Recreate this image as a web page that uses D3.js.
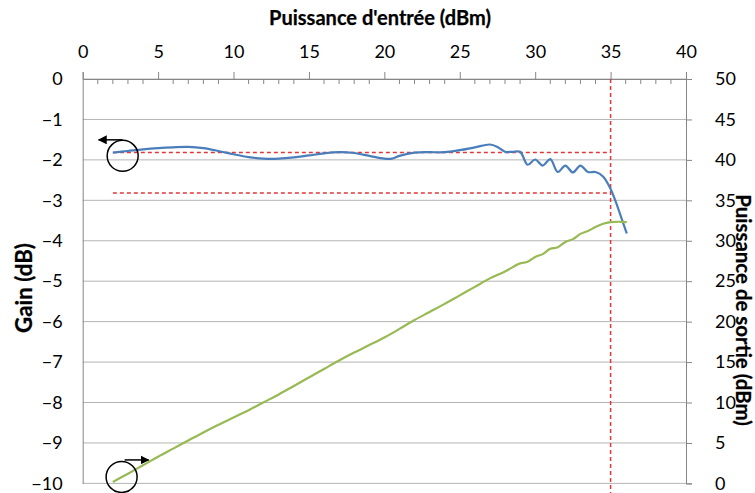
<!DOCTYPE html>
<html><head><meta charset="utf-8">
<script src="https://cdn.jsdelivr.net/npm/d3@7"></script>
<style>body{margin:0;background:#fff}svg{display:block}text{font-family:Lato,"Open Sans",sans-serif}</style>
</head><body><svg id="c" width="755" height="493"></svg>
<script>
// Input power (dBm) and gain (dB)
const pinGain = [2,3,4,5,6,7,8,9,10,11,12,13,14,15,16,17,18,19,20,20.5,21,22,23,24,25,26,27,27.5,28,28.5,29,29.5,30,30.5,31,31.5,32,32.5,33,33.5,34,34.5,35,35.5,36.07];
const gain = [-1.82,-1.78,-1.74,-1.71,-1.69,-1.68,-1.71,-1.78,-1.86,-1.93,-1.97,-1.97,-1.94,-1.89,-1.84,-1.81,-1.83,-1.9,-1.97,-1.97,-1.9,-1.82,-1.81,-1.81,-1.76,-1.69,-1.62,-1.68,-1.8,-1.8,-1.8,-2.12,-1.99,-2.14,-1.98,-2.3,-2.14,-2.31,-2.14,-2.3,-2.3,-2.41,-2.72,-3.2,-3.82];
// Input power (dBm) and output power (dBm)
const pinOut = [2,3,4,5,6,7,8,9,10,11,12,13,14,15,16,17,18,19,20,21,22,23,24,25,26,27,28,29,29.5,30,30.5,31,31.5,32,32.5,33,33.5,34,34.5,35,35.5,36.07];
const pout = [0.18,1.2,2.25,3.3,4.3,5.3,6.3,7.25,8.15,9.05,10.03,11.0,12.05,13.1,14.15,15.2,16.18,17.1,18.03,19.1,20.2,21.2,22.2,23.25,24.3,25.35,26.2,27.2,27.4,28.0,28.35,29.0,29.2,29.85,30.2,30.85,31.2,31.7,32.1,32.3,32.35,32.3];
// Reference lines
const refGain = [-1.82, -2.82];
const refPinStart = 2, refPin = 35;
const xTicks = [0,5,10,15,20,25,30,35,40];
const gainTicks = [0,-1,-2,-3,-4,-5,-6,-7,-8,-9,-10];
const poutTicks = [0,5,10,15,20,25,30,35,40,45,50];

const svg = d3.select("#c");
const L=82.7, R=686, T=79, B=483.4;
const x = d3.scaleLinear().domain([0,40]).range([L,R]);
const yG = d3.scaleLinear().domain([-10,0]).range([B,T]);
const yP = d3.scaleLinear().domain([0,50]).range([B,T]);
const axisCol="#868686", gridCol="#b4b4b4", fs=18;

function fit(sel, target){
  const len = sel.node().getComputedTextLength();
  const f = parseFloat(sel.attr("font-size"));
  sel.attr("font-size", f*target/len);
}

// gridlines
svg.append("g").selectAll("line").data(gainTicks).join("line")
  .attr("x1",L).attr("x2",R).attr("y1",d=>yG(d)).attr("y2",d=>yG(d))
  .attr("stroke",gridCol).attr("stroke-width",1);

// top axis
const gTop = svg.append("g").attr("transform",`translate(0,${T})`)
  .call(d3.axisTop(x).tickValues(xTicks).tickSize(7).tickPadding(14).tickFormat(d3.format("d")));
gTop.select(".domain").attr("stroke",axisCol);
gTop.selectAll(".tick line").attr("stroke",axisCol);
gTop.selectAll("text").attr("font-size",fs).attr("fill","#000").attr("font-family","Lato");
svg.append("g").selectAll("line").data(d3.range(0,41).filter(d=>d%5!==0)).join("line")
  .attr("x1",d=>x(d)).attr("x2",d=>x(d)).attr("y1",T).attr("y2",T+5).attr("stroke",axisCol);

// left axis
const gL = svg.append("g").attr("transform",`translate(${L},0)`)
  .call(d3.axisLeft(yG).tickValues(gainTicks).tickSize(0).tickPadding(20));
gL.select(".domain").attr("stroke",axisCol);
gL.selectAll("text").attr("font-size",fs).attr("fill","#000").attr("font-family","Lato");

// right axis
const gR = svg.append("g").attr("transform",`translate(${R},0)`)
  .call(d3.axisRight(yP).tickValues(poutTicks).tickSize(6).tickPadding(23));
gR.select(".domain").attr("stroke",axisCol);
gR.selectAll(".tick line").attr("stroke",axisCol);
gR.selectAll("text").attr("font-size",fs).attr("fill","#000").attr("font-family","Lato");

// titles
const titleStyle = s => s.attr("font-size",fs).attr("font-weight",700).attr("font-family","Lato")
  .attr("fill","#000").attr("stroke","#000").attr("stroke-width",0.25).attr("text-anchor","middle");
const t1 = svg.append("text").attr("x",380).attr("y",25).call(titleStyle).text("Puissance d'entrée (dBm)");
fit(t1, 222);
const t2 = svg.append("text").attr("transform",`translate(32,288) rotate(-90)`).call(titleStyle).text("Gain (dB)");
fit(t2, 90);
const t3 = svg.append("text").attr("transform",`translate(736,310) rotate(90)`).call(titleStyle).text("Puissance de sortie (dBm)");
fit(t3, 232);

// reference red dashed lines
const red="#e0393b";
svg.append("g").selectAll("line").data(refGain).join("line")
  .attr("x1",x(refPinStart)).attr("x2",x(refPin)).attr("y1",d=>yG(d)).attr("y2",d=>yG(d))
  .attr("stroke",red).attr("stroke-width",1.5).attr("stroke-dasharray","4,3");
svg.append("line").attr("x1",x(refPin)).attr("x2",x(refPin)).attr("y1",T).attr("y2",B+10)
  .attr("stroke",red).attr("stroke-width",1.5).attr("stroke-dasharray","4,3");

// curves
const gainLine = d3.line().x((d,i)=>x(pinGain[i])).y(d=>yG(d)).curve(d3.curveCatmullRom);
svg.append("path").attr("d",gainLine(gain)).attr("fill","none").attr("stroke","#4a7ebb").attr("stroke-width",2.2);
const outLine = d3.line().x((d,i)=>x(pinOut[i])).y(d=>yP(d)).curve(d3.curveCatmullRom);
svg.append("path").attr("d",outLine(pout)).attr("fill","none").attr("stroke","#98b954").attr("stroke-width",2.2);

// annotations: circles with arrows
const defs = svg.append("defs");
defs.append("marker").attr("id","ah").attr("viewBox","0 0 10 10").attr("refX",9).attr("refY",5)
  .attr("markerWidth",6).attr("markerHeight",6).attr("orient","auto")
  .append("path").attr("d","M0,0L10,5L0,10z").attr("fill","#000");
const c1 = {cx:x(2.65), cy:yG(-1.9)};
svg.append("circle").attr("cx",c1.cx).attr("cy",c1.cy).attr("r",15.5).attr("fill","none").attr("stroke","#000").attr("stroke-width",1.5);
svg.append("line").attr("x1",c1.cx).attr("y1",c1.cy-16).attr("x2",c1.cx-24).attr("y2",c1.cy-16)
  .attr("stroke","#000").attr("stroke-width",1.5).attr("marker-end","url(#ah)");
const c2 = {cx:x(2.58), cy:yP(0.8)};
svg.append("circle").attr("cx",c2.cx).attr("cy",c2.cy).attr("r",15.5).attr("fill","none").attr("stroke","#000").attr("stroke-width",1.5);
svg.append("line").attr("x1",c2.cx+3).attr("y1",c2.cy-17).attr("x2",c2.cx+27).attr("y2",c2.cy-17)
  .attr("stroke","#000").attr("stroke-width",1.5).attr("marker-end","url(#ah)");
</script></body></html>
